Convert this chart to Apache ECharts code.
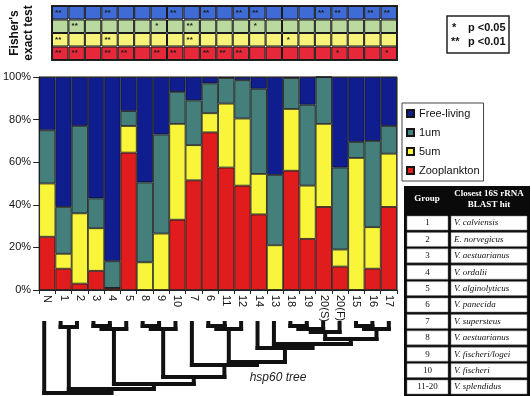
<!DOCTYPE html>
<html>
<head>
<meta charset="utf-8">
<script src="https://cdn.jsdelivr.net/npm/echarts@6/dist/echarts.min.js"></script>
<style>
html,body{margin:0;padding:0;background:#fff;}
#main{width:531px;height:396px;}
</style>
</head>
<body>
<div id="main"></div>
<script>
// bar groups, in the order of the hsp60 tree
var groups = ['N','1','2','3','4','5','8','9','10','7','6','11','12','14','13','18','19','20(S)','20(F)','15','16','17'];

// percent of clones per size fraction
var zooplankton = [25, 10, 3, 9, 1, 64.5, 0, 0, 33, 51.5, 74, 57.5, 49, 35.5, 0, 56, 24, 39, 11, 0, 10, 39];
var fiveUm      = [25, 7, 33, 20, 0, 12.5, 13, 26.5, 45, 16.5, 9, 30, 31.5, 19, 21, 29, 25, 39, 8, 62, 19.5, 25];
var oneUm       = [25, 22, 41, 14, 12.5, 7, 37.5, 46.5, 15, 21, 14, 12, 18, 40, 33, 14.5, 38, 22, 38.5, 7.5, 40.5, 13];
var freeLiving  = [25, 61, 23, 57, 86.5, 16, 49.5, 27, 7, 11, 3, 0.5, 1.5, 5.5, 46, 0.5, 13, 0, 42.5, 30.5, 30, 23];

// Fisher's exact test marks (groups 1..17, N excluded)
var fisherFree = ['**','','','**','','','','**','','**','','**','**','','','','**','**','','**','**'];
var fisherOne  = ['','**','','','','','*','','**','','','','*','','','','','','','',''];
var fisherFive = ['**','','','**','','','','','**','','','','','','*','','','','','',''];
var fisherZoo  = ['**','**','','**','**','','**','**','','**','**','**','','','','','','*','','','*'];

// table
var tableGroups = ['1','2','3','4','5','6','7','8','9','10','11-20'];
var blastHits = ['V. calviensis','E. norvegicus','V. aestuarianus','V. ordalii','V. alginolyticus','V. panecida','V. supersteus','V. aestuarianus','V. fischeri/logei','V. fischeri','V. splendidus'];

// hsp60 tree: leaves are group indexes, h = depth of the join
var leafTop = 1;
var tree = {h:71, c:[0, {h:67, c:[{h:5, c:[1,2]}, {h:62, c:[{h:7, c:[{h:4, c:[3,4]}, 5]},
  {h:55, c:[{h:7, c:[{h:4, c:[6,7]}, 8]}, {h:43, c:[9, {h:40, c:[{h:7, c:[{h:4, c:[10,11]}, 12]},
  {h:26, c:[13, {h:22, c:[14, {h:17, c:[{h:10, c:[{h:7, c:[{h:4, c:[15,16]}, 17]}, 18]},
  {h:7, c:[{h:4, c:[19,20]}, 21]}]}]}]}]}]}]}]}]}]};

var colFree = '#0f1d8f', colOne = '#457f7b', colFive = '#f8f53a', colZoo = '#e11c1c';
var fFree = '#3f6bd6', fOne = '#b9d99f', fFive = '#f7f27a', fZoo = '#e6283a';
var font = "'Liberation Sans', Arial, sans-serif";
var serif = "'Liberation Serif', 'Times New Roman', serif";

var segs = [];
function layout(node) {
  if (typeof node === 'number') return {x: node, h: leafTop};
  var a = layout(node.c[0]), b = layout(node.c[1]);
  segs.push([a.x, a.h, a.x, node.h]);
  segs.push([b.x, b.h, b.x, node.h]);
  segs.push([a.x, node.h, b.x, node.h]);
  return {x: (a.x + b.x) / 2, h: node.h};
}
layout(tree);

function ones(n){ var r=[]; for(var i=0;i<n;i++) r.push(1); return r; }

function mainBar(name, data, color) {
  return {
    name: name, type: 'bar', stack: 'main', data: data,
    xAxisIndex: 0, yAxisIndex: 0, barCategoryGap: '0%',
    itemStyle: {color: color, borderColor: '#151515', borderWidth: 0.8}
  };
}
function fisherBar(name, marks, color) {
  return {
    name: name, type: 'bar', stack: 'fisher', data: ones(marks.length),
    xAxisIndex: 1, yAxisIndex: 1, barCategoryGap: '0%',
    itemStyle: {color: color, borderColor: '#1a1a1a', borderWidth: 1},
    label: {show: true, position: 'inside', offset: [-2, 0], fontSize: 8, fontWeight: 'bold',
      color: '#1a1a1a', fontFamily: font,
      formatter: function(p){ return marks[p.dataIndex]; }}
  };
}

var gfx = [];
gfx.push({type: 'text', x: 22, y: 33, rotation: Math.PI / 2,
  style: {text: "Fisher's\nexact test", font: 'bold 12px ' + font, fill: '#111',
    textAlign: 'center', textVerticalAlign: 'middle', lineHeight: 14}});
gfx.push({type: 'rect', shape: {x: 447, y: 16, width: 62, height: 37},
  style: {fill: 'none', stroke: '#222', lineWidth: 1.5}});
gfx.push({type: 'text', x: 452, y: 28, style: {text: '*', font: 'bold 11px ' + font, fill: '#111', textVerticalAlign: 'middle'}});
gfx.push({type: 'text', x: 468, y: 28, style: {text: 'p <0.05', font: 'bold 11px ' + font, fill: '#111', textVerticalAlign: 'middle'}});
gfx.push({type: 'text', x: 451, y: 42, style: {text: '**', font: 'bold 11px ' + font, fill: '#111', textVerticalAlign: 'middle'}});
gfx.push({type: 'text', x: 468, y: 42, style: {text: 'p <0.01', font: 'bold 11px ' + font, fill: '#111', textVerticalAlign: 'middle'}});
gfx.push({type: 'text', x: 278, y: 378, style: {text: 'hsp60 tree', font: 'italic 12px ' + font, fill: '#222',
  textAlign: 'center', textVerticalAlign: 'middle'}});

// table
gfx.push({type: 'rect', shape: {x: 404, y: 186, width: 126, height: 210}, style: {fill: '#0a0a0a'}});
gfx.push({type: 'text', x: 427, y: 199, style: {text: 'Group', font: 'bold 9px ' + serif, fill: '#fff',
  textAlign: 'center', textVerticalAlign: 'middle'}});
gfx.push({type: 'text', x: 489, y: 199, style: {text: 'Closest 16S rRNA\nBLAST hit', font: 'bold 9px ' + serif, fill: '#fff',
  textAlign: 'center', textVerticalAlign: 'middle', lineHeight: 11}});
for (var i = 0; i < tableGroups.length; i++) {
  var ty = 216 + i * 16.4;
  gfx.push({type: 'rect', shape: {x: 407, y: ty, width: 41, height: 14}, style: {fill: '#fff', stroke: '#777', lineWidth: 0.5}});
  gfx.push({type: 'rect', shape: {x: 451, y: ty, width: 76, height: 14}, style: {fill: '#fff', stroke: '#777', lineWidth: 0.5}});
  gfx.push({type: 'text', x: 427.5, y: ty + 7, style: {text: tableGroups[i], font: '9px ' + serif, fill: '#111',
    textAlign: 'center', textVerticalAlign: 'middle'}});
  gfx.push({type: 'text', x: 454, y: ty + 7, style: {text: blastHits[i], font: 'italic 9px ' + serif, fill: '#111',
    textVerticalAlign: 'middle'}});
}

var option = {
  animation: false,
  backgroundColor: '#fff',
  textStyle: {fontFamily: font},
  grid: [
    {left: 36, top: 77, width: 361, height: 213, show: true, borderColor: '#222', borderWidth: 1},
    {left: 52, top: 6, width: 345, height: 54, show: true, borderColor: '#222', borderWidth: 2},
    {left: 36, top: 322, width: 361, height: 72}
  ],
  legend: {
    data: ['Free-living', '1um', '5um', 'Zooplankton'],
    orient: 'vertical', left: 402, top: 103, icon: 'rect',
    itemWidth: 7, itemHeight: 7, itemGap: 6,
    padding: [4, 4, 4, 4], borderColor: '#444', borderWidth: 1,
    textStyle: {fontSize: 11, color: '#111', fontFamily: font, lineHeight: 13}
  },
  xAxis: [
    {type: 'category', gridIndex: 0, data: groups,
      axisLine: {lineStyle: {color: '#222'}},
      axisTick: {show: true, length: 4, lineStyle: {color: '#222'}},
      axisLabel: {rotate: -90, fontSize: 11, color: '#111', margin: 5, fontFamily: font}},
    {type: 'category', gridIndex: 1, data: groups.slice(1), show: false},
    {type: 'value', gridIndex: 2, min: -0.5, max: 21.5, show: false}
  ],
  yAxis: [
    {type: 'value', gridIndex: 0, min: 0, max: 100, interval: 20,
      axisLine: {show: true, lineStyle: {color: '#222'}},
      axisTick: {show: true, length: 6, lineStyle: {color: '#222'}},
      splitLine: {show: false},
      axisLabel: {formatter: '{value}%', fontSize: 11, color: '#111', margin: 8, fontFamily: font}},
    {type: 'value', gridIndex: 1, min: 0, max: 4, show: false},
    {type: 'value', gridIndex: 2, min: 0, max: 72, inverse: true, show: false}
  ],
  series: [
    mainBar('Zooplankton', zooplankton, colZoo),
    mainBar('5um', fiveUm, colFive),
    mainBar('1um', oneUm, colOne),
    mainBar('Free-living', freeLiving, colFree),
    fisherBar('fisherZoo', fisherZoo, fZoo),
    fisherBar('fisherFive', fisherFive, fFive),
    fisherBar('fisherOne', fisherOne, fOne),
    fisherBar('fisherFree', fisherFree, fFree),
    {
      name: 'tree', type: 'custom', xAxisIndex: 2, yAxisIndex: 2, silent: true,
      data: segs, encode: {x: [0, 2], y: [1, 3]},
      renderItem: function(params, api) {
        var p1 = api.coord([api.value(0), api.value(1)]);
        var p2 = api.coord([api.value(2), api.value(3)]);
        return {type: 'line', shape: {x1: p1[0], y1: p1[1], x2: p2[0], y2: p2[1]},
          style: {stroke: '#111', lineWidth: 4, lineCap: 'square'}};
      }
    }
  ],
  graphic: gfx
};

var chart = echarts.init(document.getElementById('main'));
chart.setOption(option);
</script>
</body>
</html>
